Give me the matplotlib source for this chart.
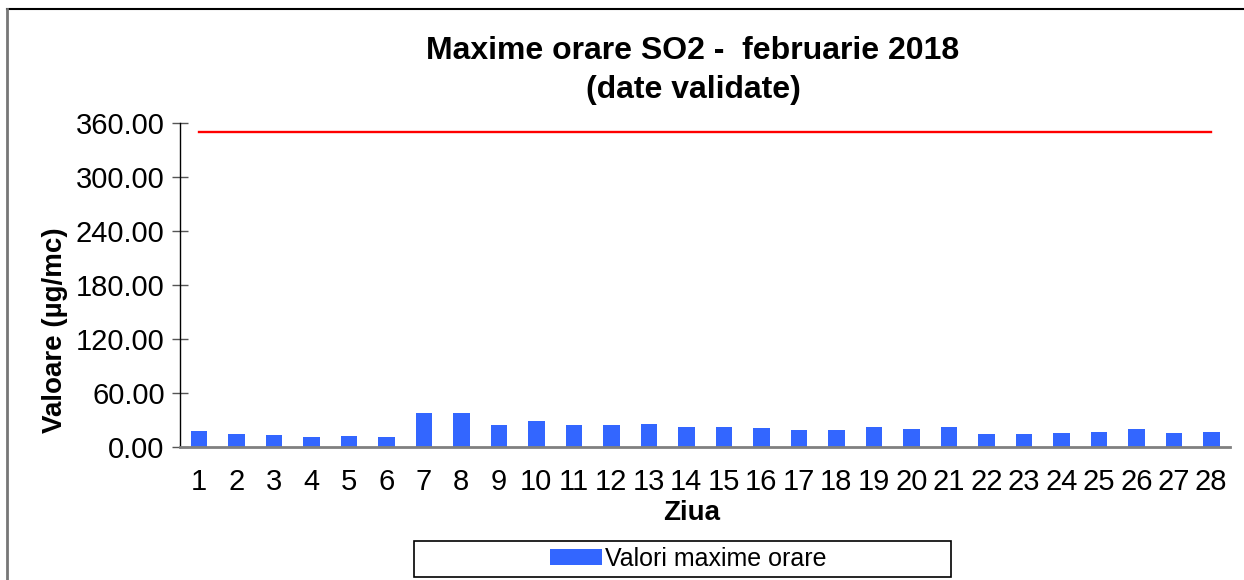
import numpy as np
import matplotlib
matplotlib.use('Agg')
from matplotlib import pyplot as plt
from matplotlib.lines import Line2D
from matplotlib.patches import Rectangle

# data
days = [str(d) for d in range(1, 29)]
valori_maxime = [17.8, 14.4, 13.0, 11.5, 12.2, 11.5, 37.4, 38.0, 24.8, 28.5,
                 24.8, 24.8, 25.9, 22.2, 21.9, 21.1, 18.9, 18.5, 22.2, 20.0,
                 21.9, 14.0, 14.8, 15.6, 16.3, 19.6, 15.6, 16.7]
valoare_limita = [350.0] * 28
yticks = [0, 60, 120, 180, 240, 300, 360]

plt.rcParams['font.family'] = ['Liberation Sans', 'DejaVu Sans']

W, H = 1244, 580
fig = plt.figure(figsize=(W / 100, H / 100), dpi=100)
ax = fig.add_axes([180 / W, 1 - 447 / H, 1050 / W, 324 / H])

x = np.arange(len(days))
bars = ax.bar(x, valori_maxime, width=0.44, color='#3366FF',
              label='Valori maxime orare', zorder=2)
ax.plot(x, valoare_limita, color='#FF0000', linewidth=1.7, zorder=3)

ax.set_xlim(-0.5, len(days) - 0.5)
ax.set_ylim(0, 360)
ax.set_yticks(yticks)
ax.set_yticklabels(['%.2f' % v for v in yticks], fontsize=21)
ax.set_xticks(x)
ax.set_xticklabels(days, fontsize=21)
ax.tick_params(axis='x', length=0, pad=15)
ax.tick_params(axis='y', direction='inout', length=12, width=1,
               color='#555555', pad=5)

for s in ['top', 'right']:
    ax.spines[s].set_visible(False)
ax.spines['left'].set_color('black')
ax.spines['left'].set_linewidth(1)
ax.spines['bottom'].set_color('#808080')
ax.spines['bottom'].set_linewidth(2)

fig.text(692 / W, 1 - 513 / H, 'Ziua', ha='center', va='center',
         fontsize=20, fontweight='bold')
fig.text(55 / W, 1 - 330 / H, 'Valoare (µg/mc)', ha='center', va='center',
         rotation=90, fontsize=20, fontweight='bold')

fig.text(693 / W, 1 - 51 / H, 'Maxime orare SO2 -  februarie 2018',
         ha='center', va='center', fontsize=23, fontweight='bold')
fig.text(693 / W, 1 - 90 / H, '(date validate)',
         ha='center', va='center', fontsize=23, fontweight='bold')

# legend box
fig.patches.append(Rectangle((414 / W, 1 - 577 / H), 537 / W, 36 / H,
                             transform=fig.transFigure, fill=False,
                             edgecolor='black', linewidth=1.2))
fig.legend(handles=[bars], labels=['Valori maxime orare'],
           loc='center', bbox_to_anchor=(688 / W, 1 - 559 / H),
           frameon=False, fontsize=18, handlelength=2.1, handleheight=0.6,
           handletextpad=0.1)

# outer chart frame (cut off at right and bottom)
fig.add_artist(Line2D([7 / W, 1], [1 - 9 / H, 1 - 9 / H],
                      transform=fig.transFigure, color='black', linewidth=1.5))
fig.add_artist(Line2D([7 / W, 7 / W], [0, 1 - 9 / H],
                      transform=fig.transFigure, color='#777777', linewidth=2))

fig.savefig('out.png', dpi=100)
